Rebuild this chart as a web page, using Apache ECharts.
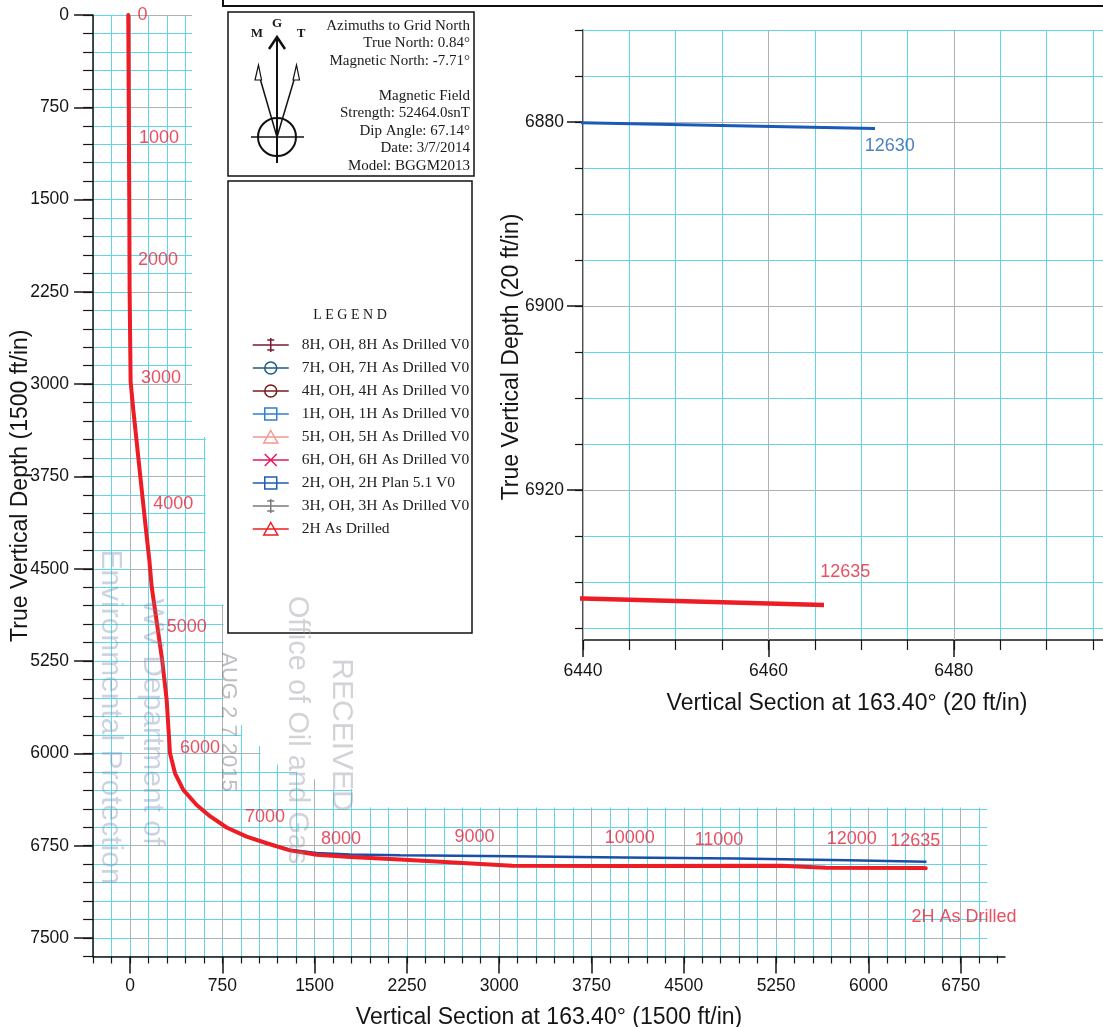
<!DOCTYPE html>
<html><head><meta charset="utf-8">
<script src="https://cdn.jsdelivr.net/npm/echarts@6/dist/echarts.min.js"></script>
<style>html,body{margin:0;padding:0;background:#fff}#c{width:1103px;height:1027px}</style>
</head><body><div id="c"></div>
<script>
// ---------------- DATA ----------------
// 2H As Drilled: vertical section (ft) and TVD (ft)
const drilledVS  = [-14, -10, -6, -3, 5, 27, 81, 130, 157, 176, 220, 262, 298, 325, 366, 433, 542, 650, 785, 948, 1111, 1300, 1517, 1788, 2194, 2558, 3104, 4014, 5290, 5655, 6440, 6466];
const drilledTVD = [0, 750, 1500, 2250, 2979, 3210, 3724, 4185, 4428, 4645, 4950, 5246, 5566, 5999, 6162, 6297, 6419, 6510, 6602, 6676, 6730, 6788, 6823, 6842, 6862, 6882, 6912, 6914, 6913, 6929, 6931.8, 6932.5];
// 2H Plan 5.1 V0
const planVS  = [-14, -10, -6, -3, 5, 27, 81, 130, 157, 176, 220, 262, 298, 325, 366, 433, 542, 650, 785, 948, 1111, 1300, 1517, 1788, 2194, 3104, 4014, 4924, 5834, 6471.5];
const planTVD = [0, 750, 1500, 2250, 2979, 3210, 3724, 4185, 4428, 4645, 4950, 5246, 5566, 5999, 6162, 6297, 6419, 6510, 6602, 6676, 6728, 6782, 6810, 6822, 6828, 6836, 6846, 6855, 6868, 6880.7];
// measured-depth annotations along the drilled path
const mdLabels   = ['0', '1000', '2000', '3000', '4000', '5000', '6000', '7000', '8000', '9000', '10000', '11000', '12000', '12635', '2H As Drilled'];
const mdLabelVS  = [101, 236, 228, 252, 352, 461, 569, 1097, 1715, 2799, 4061, 4786, 5865, 6380, 6776];
const mdLabelTVD = [3, 998, 1988, 2948, 3971, 4977, 5959, 6519, 6698, 6677, 6690, 6703, 6698, 6711, 7331];
// inset end-of-well labels
const insetLabels = ['12630', '12635'];
const insetLabelVS  = [6473.1, 6468.3];
const insetLabelTVD = [6882.6, 6928.9];
// tick labels
const xMajorTicks = [0, 750, 1500, 2250, 3000, 3750, 4500, 5250, 6000, 6750];
const yMajorTicks = [0, 750, 1500, 2250, 3000, 3750, 4500, 5250, 6000, 6750, 7500];
const insetXTicks = [6440, 6460, 6480];
const insetYTicks = [6880, 6900, 6920];
// legend
const legendNames = ['8H, OH, 8H As Drilled V0', '7H, OH, 7H As Drilled V0', '4H, OH, 4H As Drilled V0', '1H, OH, 1H As Drilled V0', '5H, OH, 5H As Drilled V0', '6H, OH, 6H As Drilled V0', '2H, OH, 2H Plan 5.1 V0', '3H, OH, 3H As Drilled V0', '2H As Drilled'];

// ---------------- STYLES / LAYOUT ----------------
const legendColors = ['#7a1b33', '#1b5c85', '#7a1c1c', '#2f7fd4', '#f4978e', '#e8195a', '#1d5cb8', '#7a7a7a', '#ee1c24'];
const A = 'M0 0M44 14M0 7L36 7';
const legendIcons = [
  A + 'M18 0L18 14M14.5 2L21.5 2M14.5 12L21.5 12',
  A + 'M24 7A6 6 0 1 1 12 7A6 6 0 1 1 24 7',
  A + 'M24 7A6 6 0 1 1 12 7A6 6 0 1 1 24 7',
  A + 'M12 1L24 1L24 13L12 13Z',
  A + 'M18 0.5L25 13L11 13Z',
  A + 'M12 1L24 13M24 1L12 13',
  A + 'M12 1L24 1L24 13L12 13Z',
  A + 'M18 0L18 14M14.5 2L21.5 2M14.5 12L21.5 12',
  A + 'M18 0.5L25 13L11 13Z'
];
const CYAN = '#62d6e8', GREY = '#aab2b6', INK = '#151515', MDRED = '#e3243b';
const SANS = 'Liberation Sans', SERIF = 'Liberation Serif';
const S = 92.3 / 750;          // px per ft (main plot)
const PX0 = 130, PY0 = 15;     // pixel of VS=0 / TVD=0
const mainX = [-300, 7110], mainY = [0, 7650];
const IL = 583, IT = 30, ISX = 9.27, ISY = 9.2;
const insetX = [6440, 6440 + (1103 - IL) / ISX], insetY = [6870, 6936.3];

function range(a, b, s) { const r = []; for (let v = a; v <= b + 1e-9; v += s) r.push(Math.round(v * 10) / 10); return r; }
const zip = (a, b) => a.map((v, i) => [v, b[i]]);
const plain = v => String(v);

const chart = echarts.init(document.getElementById('c'));

const tickLbl = { fontFamily: SANS, fontSize: 17.5, color: INK, formatter: plain };
const nameStyle = { fontFamily: SANS, fontSize: 23, color: INK };
const gridBase = { containLabel: false, outerBoundsMode: 'none' };

const grids = [
  { left: PX0 + mainX[0] * S, top: PY0, width: (mainX[1] - mainX[0]) * S, height: (mainY[1] - mainY[0]) * S },
  { left: PX0, top: PY0, width: xMajorTicks[xMajorTicks.length - 1] * S, height: yMajorTicks[yMajorTicks.length - 1] * S },
  { left: IL, top: IT, width: (insetX[1] - insetX[0]) * ISX, height: (insetY[1] - insetY[0]) * ISY },
  { left: IL, top: IT, width: (insetX[1] - insetX[0]) * ISX, height: (insetY[1] - insetY[0]) * ISY },
  { left: IL, top: IT + (insetYTicks[0] - insetY[0]) * ISY, width: (insetX[1] - insetX[0]) * ISX, height: (insetYTicks[2] - insetYTicks[0]) * ISY }
].map(g => Object.assign({}, gridBase, g));

const xAxes = [
  { gridIndex: 0, type: 'value', min: mainX[0], max: mainX[1], interval: 150, z: 0,
    axisLine: { show: true, onZero: false, lineStyle: { color: INK, width: 1.5 } },
    axisTick: { show: true, length: 7, lineStyle: { color: INK, width: 1.2 }, customValues: range(-300, 7050, 150) },
    axisLabel: { show: false }, splitLine: { show: true, lineStyle: { color: CYAN, width: 1 } },
    name: 'Vertical Section at 163.40° (1500 ft/in)', nameLocation: 'middle', nameGap: 50, nameTextStyle: nameStyle },
  { gridIndex: 1, type: 'value', min: xMajorTicks[0], max: xMajorTicks[xMajorTicks.length - 1], interval: 750, z: 1,
    offset: (mainY[1] - yMajorTicks[yMajorTicks.length - 1]) * S,
    axisLine: { show: false, onZero: false }, axisTick: { show: true, length: 17, lineStyle: { color: INK, width: 1.5 } },
    axisLabel: Object.assign({ margin: 21 }, tickLbl), splitLine: { show: true, lineStyle: { color: GREY, width: 1 } } },
  { gridIndex: 2, type: 'value', min: insetX[0], max: insetX[1], interval: 5, z: 3,
    axisLine: { show: true, onZero: false, lineStyle: { color: INK, width: 1.5 } },
    axisTick: { show: true, length: 10, lineStyle: { color: INK, width: 1.2 }, customValues: range(6440, 6495, 5) },
    axisLabel: { show: false }, splitLine: { show: true, lineStyle: { color: CYAN, width: 1 } },
    name: 'Vertical Section at 163.40° (20 ft/in)', nameLocation: 'middle', nameGap: 52,
    nameTextStyle: Object.assign({ padding: [0, 0, 0, 8] }, nameStyle) },
  { gridIndex: 3, type: 'value', min: insetX[0], max: insetX[1], interval: 20, z: 4,
    axisLine: { show: false, onZero: false },
    axisTick: { show: true, length: 17, lineStyle: { color: INK, width: 1.5 }, customValues: insetXTicks },
    axisLabel: Object.assign({ margin: 22, customValues: insetXTicks }, tickLbl, { formatter: v => (v % 20 === 0 ? String(v) : '') }),
    splitLine: { show: true, lineStyle: { color: GREY, width: 1 } } },
  { gridIndex: 4, type: 'value', min: insetX[0], max: insetX[1], show: false }
];

const yAxes = [
  { gridIndex: 0, type: 'value', inverse: true, min: mainY[0], max: mainY[1], interval: 150, z: 0,
    axisLine: { show: true, onZero: false, lineStyle: { color: INK, width: 1.5 } },
    axisTick: { show: true, length: 10, lineStyle: { color: INK, width: 1.2 } },
    axisLabel: { show: false }, splitLine: { show: true, lineStyle: { color: CYAN, width: 1 } },
    name: 'True Vertical Depth (1500 ft/in)', nameLocation: 'middle', nameGap: 61, nameTextStyle: nameStyle },
  { gridIndex: 1, type: 'value', inverse: true, min: yMajorTicks[0], max: yMajorTicks[yMajorTicks.length - 1], interval: 750, z: 1,
    offset: (0 - mainX[0]) * S,
    axisLine: { show: false, onZero: false }, axisTick: { show: true, length: 19, lineStyle: { color: INK, width: 1.5 } },
    axisLabel: Object.assign({ margin: 24 }, tickLbl), splitLine: { show: true, lineStyle: { color: GREY, width: 1 } } },
  { gridIndex: 2, type: 'value', inverse: true, min: insetY[0], max: insetY[1], interval: 5, z: 3,
    axisLine: { show: true, onZero: false, lineStyle: { color: INK, width: 1.5 } },
    axisTick: { show: true, length: 8, lineStyle: { color: INK, width: 1.2 }, customValues: range(6870, 6935, 5) },
    axisLabel: { show: false }, splitLine: { show: true, lineStyle: { color: CYAN, width: 1 } },
    name: 'True Vertical Depth (20 ft/in)', nameLocation: 'middle', nameGap: 60,
    nameTextStyle: Object.assign({ padding: [0, 44, 0, 0] }, nameStyle) },
  { gridIndex: 3, type: 'value', inverse: true, min: insetY[0], max: insetY[1], show: false },
  { gridIndex: 4, type: 'value', inverse: true, min: insetYTicks[0], max: insetYTicks[2], interval: 20, z: 4,
    axisLine: { show: false, onZero: false }, axisTick: { show: true, length: 16, lineStyle: { color: INK, width: 1.5 } },
    axisLabel: Object.assign({ margin: 19 }, tickLbl), splitLine: { show: true, lineStyle: { color: GREY, width: 1 } } }
];

const series = [
  { name: '2H, OH, 2H Plan 5.1 V0', type: 'line', xAxisIndex: 0, yAxisIndex: 0, z: 3, showSymbol: false, symbol: 'none',
    data: zip(planVS, planTVD), lineStyle: { color: '#1a4fa8', width: 2.5 }, itemStyle: { color: legendColors[6] } },
  { name: '2H As Drilled', type: 'line', xAxisIndex: 0, yAxisIndex: 0, z: 4, showSymbol: false, symbol: 'none',
    data: zip(drilledVS, drilledTVD), lineStyle: { color: '#ee1c24', width: 4, cap: 'round' }, itemStyle: { color: legendColors[8] } },
  { name: 'md', type: 'scatter', xAxisIndex: 0, yAxisIndex: 0, z: 5, symbolSize: 1, itemStyle: { color: 'rgba(0,0,0,0)' },
    data: mdLabels.map((t, i) => ({ name: t, value: [mdLabelVS[i], mdLabelTVD[i]] })),
    label: { show: true, position: 'inside', formatter: '{b}', color: MDRED, fontFamily: SANS, fontSize: 18 } },
  { name: '2H, OH, 2H Plan 5.1 V0', type: 'line', xAxisIndex: 2, yAxisIndex: 2, z: 5, showSymbol: false, symbol: 'none',
    data: zip(planVS, planTVD), lineStyle: { color: '#1a5ab8', width: 3 }, itemStyle: { color: legendColors[6] } },
  { name: '2H As Drilled', type: 'line', xAxisIndex: 2, yAxisIndex: 2, z: 6, showSymbol: false, symbol: 'none',
    data: zip(drilledVS, drilledTVD), lineStyle: { color: '#ee1c24', width: 4.5 }, itemStyle: { color: legendColors[8] } },
  { name: 'inset', type: 'scatter', xAxisIndex: 2, yAxisIndex: 2, z: 6, symbolSize: 1, itemStyle: { color: 'rgba(0,0,0,0)' },
    data: insetLabels.map((t, i) => ({ name: t, value: [insetLabelVS[i], insetLabelTVD[i]],
      label: { color: i === 0 ? '#2060b0' : MDRED } })),
    label: { show: true, position: 'inside', formatter: '{b}', fontFamily: SANS, fontSize: 18 } }
];
legendNames.forEach((n, i) => {
  if (n === '2H, OH, 2H Plan 5.1 V0' || n === '2H As Drilled') return;
  series.push({ name: n, type: 'line', xAxisIndex: 0, yAxisIndex: 0, data: [], itemStyle: { color: legendColors[i] } });
});

chart.setOption({
  animation: false,
  backgroundColor: '#fff',
  grid: grids, xAxis: xAxes, yAxis: yAxes, series: series,
  legend: {
    orient: 'vertical', left: 247, top: 332, padding: 5, itemWidth: 44, itemHeight: 14, itemGap: 7, z: 7,
    selectedMode: false, textStyle: { fontFamily: SERIF, fontSize: 15.5, color: '#222' },
    data: legendNames.map((n, i) => ({ name: n, icon: 'path://' + legendIcons[i],
      itemStyle: { color: 'rgba(0,0,0,0)', borderColor: legendColors[i], borderWidth: 1.5 } }))
  }
});

// staircase boundary of the printed graph paper (area above it is blank)
const paperEdge = [[505, -200], [7300, -200], [7300, 7640], [6965, 7640], [6965, 6440], [1810, 6440], [1810, 6290], [1510, 6290],
  [1510, 6210], [1360, 6210], [1360, 6150], [1210, 6150], [1210, 6090], [1060, 6090], [1060, 5940], [910, 5940], [910, 5770],
  [760, 5770], [760, 4790], [615, 4790], [615, 3430], [505, 3430]];
const coverPts = paperEdge.map(p => chart.convertToPixel({ xAxisIndex: 0, yAxisIndex: 0 }, p));

const txt = (x, y, t, o) => Object.assign({ type: 'text', x: x, y: y, z: 7,
  style: Object.assign({ text: t, fill: '#1a1a1a', fontFamily: SERIF, fontSize: 15, align: 'right', verticalAlign: 'middle' }, o || {}) });
const ln = (x1, y1, x2, y2, w) => ({ type: 'line', z: 7, shape: { x1: x1, y1: y1, x2: x2, y2: y2 }, style: { stroke: '#111', lineWidth: w || 1.5 } });
const stamp = (x, y, t, size, col) => ({ type: 'text', x: x, y: y, rotation: -Math.PI / 2, z: 9,
  style: { text: t, fill: col, fontFamily: SANS, fontSize: size, align: 'center', verticalAlign: 'middle' } });

const graphics = [
  { type: 'polygon', z: 2, shape: { points: coverPts }, style: { fill: '#fff' } },
  { type: 'rect', z: 6, shape: { x: 223, y: -60, width: 920, height: 66 }, style: { fill: 'none', stroke: '#111', lineWidth: 2 } },
  { type: 'rect', z: 6, shape: { x: 228, y: 12, width: 246, height: 164 }, style: { fill: '#fff', stroke: '#111', lineWidth: 1.5 } },
  { type: 'rect', z: 6, shape: { x: 228, y: 181, width: 244, height: 452 }, style: { fill: '#fff', stroke: '#111', lineWidth: 1.5 } },
  txt(470, 26, 'Azimuths to Grid North'), txt(470, 43.5, 'True North: 0.84°'), txt(470, 61, 'Magnetic North: -7.71°'),
  txt(470, 96, 'Magnetic Field'), txt(470, 113.5, 'Strength: 52464.0snT'), txt(470, 131, 'Dip Angle: 67.14°'),
  txt(470, 148.5, 'Date: 3/7/2014'), txt(470, 166, 'Model: BGGM2013'),
  txt(257, 34, 'M', { align: 'center', fontWeight: 'bold', fontSize: 13 }),
  txt(277, 24, 'G', { align: 'center', fontWeight: 'bold', fontSize: 13 }),
  txt(301, 34, 'T', { align: 'center', fontWeight: 'bold', fontSize: 13 }),
  ln(277, 163, 277, 38, 2),
  { type: 'polyline', z: 7, shape: { points: [[269, 49], [277, 37], [285, 49]] }, style: { stroke: '#111', lineWidth: 2.5, fill: 'none' } },
  { type: 'circle', z: 7, shape: { cx: 277, cy: 137, r: 19 }, style: { stroke: '#111', lineWidth: 2, fill: 'none' } },
  ln(251, 137, 304, 137, 1.5),
  ln(260.5, 80, 277, 137, 1.5), ln(294, 80, 277, 137, 1.5),
  { type: 'polygon', z: 7, shape: { points: [[258.5, 65], [255, 80], [261.5, 80]] }, style: { stroke: '#111', lineWidth: 1.2, fill: '#fff' } },
  { type: 'polygon', z: 7, shape: { points: [[296.5, 65], [293, 80], [299.5, 80]] }, style: { stroke: '#111', lineWidth: 1.2, fill: '#fff' } },
  txt(350, 315, 'L E G E N D', { align: 'center', fontSize: 14 }),
  stamp(341, 735, 'RECEIVED', 30, 'rgba(140,140,150,0.38)'),
  stamp(297, 730, 'Office of Oil and Gas', 29, 'rgba(140,140,150,0.38)'),
  stamp(228, 722, 'AUG 2 7 2015', 22, 'rgba(110,110,120,0.45)'),
  stamp(152, 722, 'WV Department of', 30, 'rgba(120,140,175,0.38)'),
  stamp(110, 717, 'Environmental Protection', 30, 'rgba(120,140,175,0.38)')
];
chart.setOption({ graphic: graphics });
</script>
</body></html>
